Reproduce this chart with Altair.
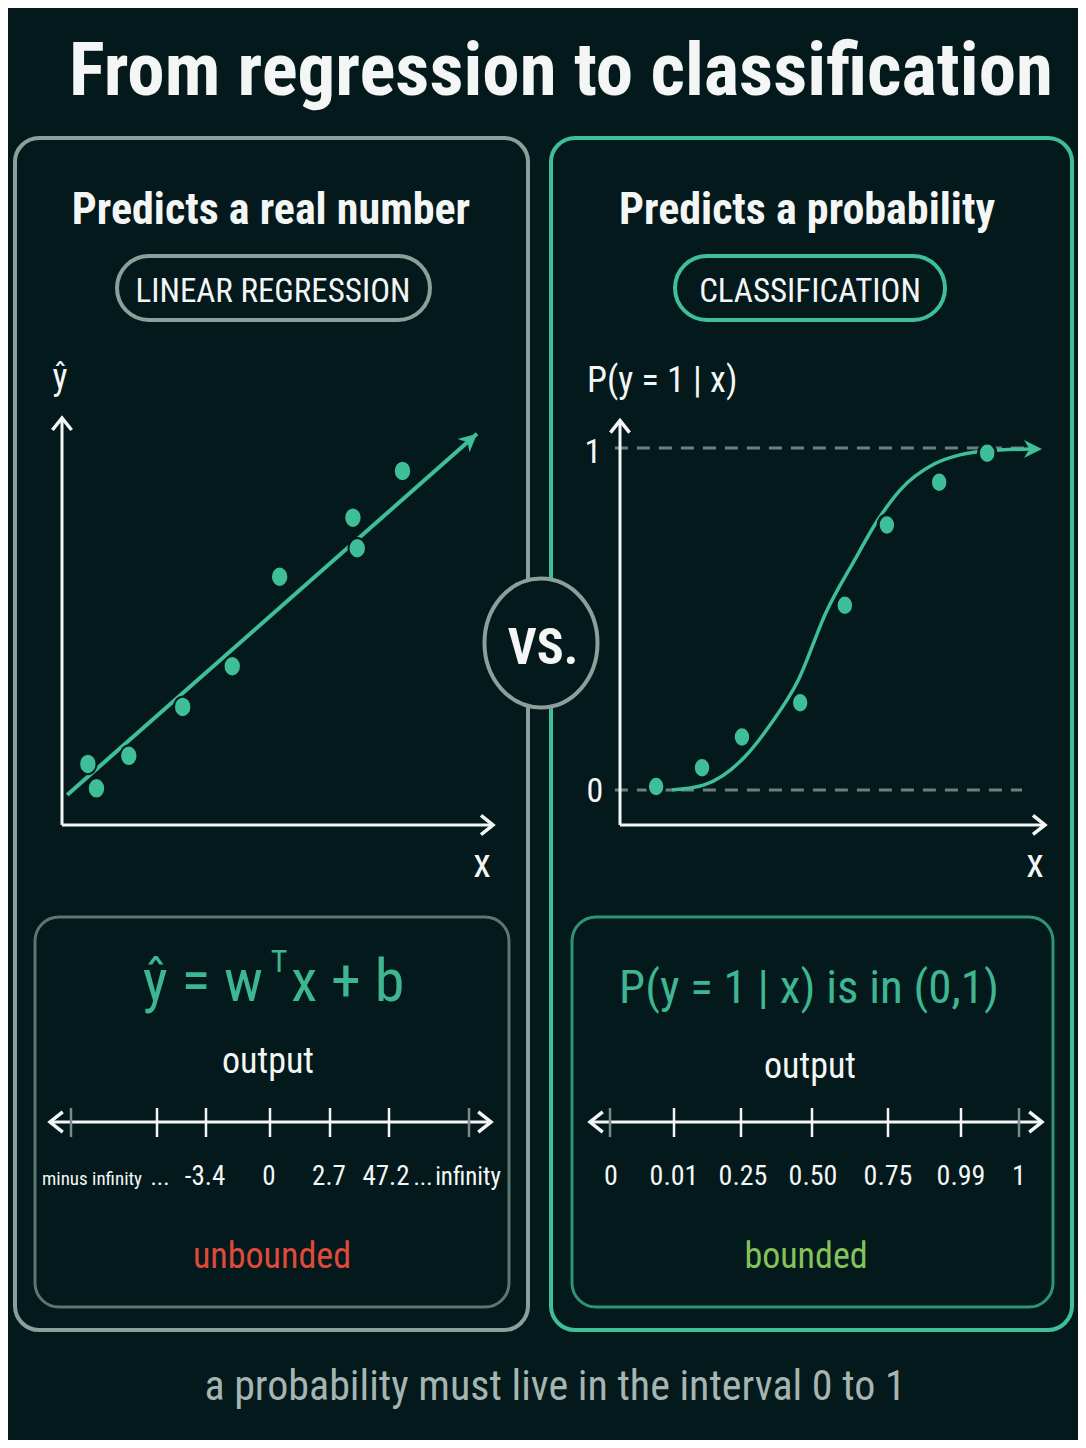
import math
import altair as alt
import pandas as pd

# ---------------- data ----------------
TITLE = "From regression to classification"
LEFT_HEAD = "Predicts a real number"
LEFT_TAG = "LINEAR REGRESSION"
RIGHT_HEAD = "Predicts a probability"
RIGHT_TAG = "CLASSIFICATION"
LEFT_FORMULA = ["ŷ = w", "T", "x + b"]
RIGHT_FORMULA = "P(y = 1 | x) is in (0,1)"
OUTPUT_LABEL = "output"
LEFT_VERDICT = "unbounded"
RIGHT_VERDICT = "bounded"
FOOTNOTE = "a probability must live in the interval 0 to 1"
VS_LABEL = "VS."
Y_HAT_LABEL = "ŷ"
P_LABEL = "P(y = 1 | x)"
X_LABEL = "x"

# regression panel (x, y-hat in arbitrary units 0..10)
reg_x = [0.6, 0.8, 1.55, 2.8, 3.95, 5.05, 6.85, 6.75, 7.9]
reg_y = [1.5, 0.9, 1.7, 2.9, 3.9, 6.1, 6.8, 7.55, 8.7]
reg_line_x = [0.12, 9.63]
reg_line_y = [0.74, 9.61]

# classification panel (x 0..10, probability 0..1)
cls_x = [0.85, 1.93, 2.87, 4.24, 5.29, 6.28, 7.51, 8.64]
cls_p = [0.01, 0.065, 0.155, 0.255, 0.54, 0.775, 0.90, 0.985]
curve_x = [1.22, 1.98, 2.96, 3.53, 4.19, 4.85, 5.51, 6.07, 6.59, 7.39, 8.0, 8.59, 9.65]
curve_p = [0.0, 0.015, 0.10, 0.19, 0.32, 0.52, 0.67, 0.79, 0.877, 0.953, 0.98, 0.991, 0.997]

reg_tick_labels = ["minus infinity", "...", "-3.4", "0", "2.7", "47.2", "...", "infinity"]
cls_tick_labels = ["0", "0.01", "0.25", "0.50", "0.75", "0.99", "1"]

# ---------------- style ----------------
BG = "#03191b"
WHITE = "#f4f6f5"
TEAL = "#3fbf98"
TEAL_TXT = "#3db691"
GRAY = "#8d9f9a"
GRAY_DIM = "#5d7670"
TEAL_DIM = "#2f9474"
DASH = "#6f807c"
RED = "#e04a3c"
GREEN = "#85c25c"
FOOT = "#a6b5b1"
NARROW = "'Liberation Sans Narrow', 'Roboto Condensed', 'DejaVu Sans Condensed', sans-serif"

OFF = 8  # page margin
W, H = 1086 - 2 * OFF, 1448 - 2 * OFF

ARROW_FILLED = "M0,0L-2,-1L-1.4,0L-2,1Z"
CHEVRON = "M-1.5,-1.2L0,0L-1.5,1.2"
DOT = "M-0.85,0A0.85,1 0 1,0 0.85,0A0.85,1 0 1,0 -0.85,0Z"
ELLIPSE = "M-0.876,0A0.876,1 0 1,0 0.876,0A0.876,1 0 1,0 -0.876,0Z"


def LX():
    return alt.Scale(domain=[0, 10], range=[62 - OFF, 493 - OFF], nice=False, zero=False)


def LY():
    return alt.Scale(domain=[0, 10], range=[825 - OFF, 418 - OFF], nice=False, zero=False)


def RX():
    return alt.Scale(domain=[0, 10], range=[620 - OFF, 1045 - OFF], nice=False, zero=False)


def RY():
    return alt.Scale(domain=[0, 1], range=[790 - OFF, 448 - OFF], nice=False, zero=False)


def px(v):
    return v - OFF


def enc_px(ch, field):
    return ch(field + ":Q", scale=None, axis=None)


layers = []

# ---------- boxes ----------
boxes = pd.DataFrame([
    (15, 528, 138, 1330, GRAY, 4, 24),
    (551, 1072, 138, 1330, TEAL, 4, 24),
    (35, 509, 917, 1307, GRAY_DIM, 3, 24),
    (572, 1053, 917, 1307, TEAL_DIM, 3, 24),
], columns=["x", "x2", "y", "y2", "c", "w", "r"])
for _, b in boxes.iterrows():
    d = pd.DataFrame({"x": [px(b.x)], "x2": [px(b.x2)], "y": [px(b.y)], "y2": [px(b.y2)]})
    layers.append(
        alt.Chart(d).mark_rect(fillOpacity=0, stroke=b.c, strokeWidth=float(b.w),
                               cornerRadius=float(b.r))
        .encode(x=enc_px(alt.X, "x"), x2="x2", y=enc_px(alt.Y, "y"), y2="y2")
    )

pills = [(117, 430, GRAY), (675, 945, TEAL)]
for x1, x2, c in pills:
    d = pd.DataFrame({"x": [px(x1)], "x2": [px(x2)], "y": [px(256)], "y2": [px(320)]})
    layers.append(
        alt.Chart(d).mark_rect(fillOpacity=0, stroke=c, strokeWidth=4, cornerRadius=32)
        .encode(x=enc_px(alt.X, "x"), x2="x2", y=enc_px(alt.Y, "y"), y2="y2")
    )

# VS ellipse
vs_df = pd.DataFrame({"x": [px(541)], "y": [px(643)]})
layers.append(
    alt.Chart(vs_df).mark_point(shape=ELLIPSE, filled=True, fill=BG, stroke=GRAY,
                                strokeWidth=4, size=129 * 129, opacity=1)
    .encode(x=enc_px(alt.X, "x"), y=enc_px(alt.Y, "y"))
)

# ---------- left chart ----------
left_axes = pd.DataFrame({"x": [0, 0], "x2": [10, 0], "y": [0, 0], "y2": [0, 10]})
layers.append(
    alt.Chart(left_axes).mark_rule(color=WHITE, strokeWidth=3)
    .encode(x=alt.X("x:Q", scale=LX(), axis=None), x2="x2",
            y=alt.Y("y:Q", scale=LY(), axis=None), y2="y2")
)
left_arrows = pd.DataFrame({"x": [10, 0], "y": [0, 10], "a": [0, 270]})
layers.append(
    alt.Chart(left_arrows).mark_point(shape=CHEVRON, filled=False, color=WHITE,
                                      strokeWidth=3.5, size=256, opacity=1)
    .encode(x=alt.X("x:Q", scale=LX(), axis=None), y=alt.Y("y:Q", scale=LY(), axis=None),
            angle=alt.Angle("a:Q", scale=None))
)
reg_line = pd.DataFrame({"x": reg_line_x, "y": reg_line_y})
layers.append(
    alt.Chart(reg_line).mark_line(color=TEAL, strokeWidth=4)
    .encode(x=alt.X("x:Q", scale=LX(), axis=None), y=alt.Y("y:Q", scale=LY(), axis=None))
)
dxp = (reg_line_x[1] - reg_line_x[0]) * 43.1
dyp = -(reg_line_y[1] - reg_line_y[0]) * 40.7
ang = (math.degrees(math.atan2(dyp, dxp)) + 360) % 360
reg_head = pd.DataFrame({"x": [reg_line_x[1]], "y": [reg_line_y[1]], "a": [ang]})
layers.append(
    alt.Chart(reg_head).mark_point(shape=ARROW_FILLED, filled=True, color=TEAL,
                                   size=324, opacity=1)
    .encode(x=alt.X("x:Q", scale=LX(), axis=None), y=alt.Y("y:Q", scale=LY(), axis=None),
            angle=alt.Angle("a:Q", scale=None))
)
reg_pts = pd.DataFrame({"x": reg_x, "y": reg_y})
layers.append(
    alt.Chart(reg_pts).mark_point(shape=DOT, filled=True, fill=TEAL, stroke=BG,
                                  strokeWidth=2, size=420, opacity=1)
    .encode(x=alt.X("x:Q", scale=LX(), axis=None), y=alt.Y("y:Q", scale=LY(), axis=None))
)

# ---------- right chart ----------
dashes = pd.DataFrame({"x": [-0.12, -0.12], "x2": [9.53, 9.46], "y": [1, 0], "y2": [1, 0]})
layers.append(
    alt.Chart(dashes).mark_rule(color=DASH, strokeWidth=3, strokeDash=[13, 9])
    .encode(x=alt.X("x:Q", scale=RX(), axis=None), x2="x2",
            y=alt.Y("y:Q", scale=RY(), axis=None), y2="y2")
)
right_axes = pd.DataFrame({"x": [0, 0], "x2": [10, 0], "y": [-0.102, -0.102], "y2": [-0.102, 1.08]})
layers.append(
    alt.Chart(right_axes).mark_rule(color=WHITE, strokeWidth=3)
    .encode(x=alt.X("x:Q", scale=RX(), axis=None), x2="x2",
            y=alt.Y("y:Q", scale=RY(), axis=None), y2="y2")
)
right_arrows = pd.DataFrame({"x": [10, 0], "y": [-0.102, 1.08], "a": [0, 270]})
layers.append(
    alt.Chart(right_arrows).mark_point(shape=CHEVRON, filled=False, color=WHITE,
                                       strokeWidth=3.5, size=256, opacity=1)
    .encode(x=alt.X("x:Q", scale=RX(), axis=None), y=alt.Y("y:Q", scale=RY(), axis=None),
            angle=alt.Angle("a:Q", scale=None))
)
curve = pd.DataFrame({"x": curve_x, "y": curve_p})
layers.append(
    alt.Chart(curve).mark_line(color=TEAL, strokeWidth=3.5, interpolate="monotone")
    .encode(x=alt.X("x:Q", scale=RX(), axis=None), y=alt.Y("y:Q", scale=RY(), axis=None))
)
curve_head = pd.DataFrame({"x": [9.93], "y": [0.997], "a": [0]})
layers.append(
    alt.Chart(curve_head).mark_point(shape=ARROW_FILLED, filled=True, color=TEAL,
                                     size=324, opacity=1)
    .encode(x=alt.X("x:Q", scale=RX(), axis=None), y=alt.Y("y:Q", scale=RY(), axis=None),
            angle=alt.Angle("a:Q", scale=None))
)
cls_pts = pd.DataFrame({"x": cls_x, "y": cls_p})
layers.append(
    alt.Chart(cls_pts).mark_point(shape=DOT, filled=True, fill=TEAL, stroke=BG,
                                  strokeWidth=3, size=420, opacity=1)
    .encode(x=alt.X("x:Q", scale=RX(), axis=None), y=alt.Y("y:Q", scale=RY(), axis=None))
)

# ---------- number lines ----------
reg_tick_x = [71, 157, 206, 270, 330, 389, 469]
reg_tick_faint = [True, False, False, False, False, False, True]
cls_tick_x = [610, 674, 741, 812, 888, 961, 1019]
cls_tick_faint = [True, False, False, False, False, False, True]

nl = pd.DataFrame({"x": [px(52), px(592)], "x2": [px(488), px(1040)],
                   "y": [px(1122), px(1122)]})
layers.append(
    alt.Chart(nl).mark_rule(color=WHITE, strokeWidth=3)
    .encode(x=enc_px(alt.X, "x"), x2="x2", y=enc_px(alt.Y, "y"))
)
nl_heads = pd.DataFrame({"x": [px(50), px(491), px(590), px(1042)],
                         "y": [px(1122)] * 4, "a": [180, 0, 180, 0]})
layers.append(
    alt.Chart(nl_heads).mark_point(shape=CHEVRON, filled=False, color=WHITE,
                                   strokeWidth=3.5, size=289, opacity=1)
    .encode(x=enc_px(alt.X, "x"), y=enc_px(alt.Y, "y"), angle=alt.Angle("a:Q", scale=None))
)
ticks = pd.DataFrame({
    "x": [px(v) for v in reg_tick_x + cls_tick_x],
    "y": [px(1108)] * 14, "y2": [px(1137)] * 14,
    "c": [("#7d8b88" if f else WHITE) for f in reg_tick_faint + cls_tick_faint],
})
layers.append(
    alt.Chart(ticks).mark_rule(strokeWidth=2.5)
    .encode(x=enc_px(alt.X, "x"), y=enc_px(alt.Y, "y"), y2="y2",
            color=alt.Color("c:N", scale=None))
)


# ---------- texts ----------
def texts(rows, weight="normal", align="center", font=NARROW):
    d = pd.DataFrame(rows, columns=["t", "x", "y", "s", "c"])
    d["x"] = d["x"] - OFF
    d["y"] = d["y"] - OFF
    return (
        alt.Chart(d).mark_text(font=font, fontWeight=weight, align=align, baseline="alphabetic")
        .encode(x=enc_px(alt.X, "x"), y=enc_px(alt.Y, "y"), text="t:N",
                size=alt.Size("s:Q", scale=None), color=alt.Color("c:N", scale=None))
    )


layers.append(texts([
    (TITLE, 561, 95, 75, WHITE),
    (LEFT_HEAD, 271, 224, 44, WHITE),
    (RIGHT_HEAD, 807, 224, 44, WHITE),
    (VS_LABEL, 543, 664, 50, WHITE),
], weight="bold"))

reg_label_x = [92, 160, 205, 269, 329, 386, 423, 468]
reg_label_s = [19, 24, 27, 27, 27, 27, 24, 25]
cls_label_x = [611, 674, 743, 813, 888, 961, 1019]

rows = [
    (LEFT_TAG, 273, 302, 33, WHITE),
    (RIGHT_TAG, 810, 302, 33, WHITE),
    (Y_HAT_LABEL, 60, 389, 36, WHITE),
    ("1", 593, 463, 34, WHITE),
    ("0", 595, 802, 34, WHITE),
    (X_LABEL, 482, 877, 40, WHITE),
    (X_LABEL, 1035, 877, 40, WHITE),
    (OUTPUT_LABEL, 268, 1073, 36, WHITE),
    (OUTPUT_LABEL, 810, 1078, 36, WHITE),
    (LEFT_VERDICT, 272, 1268, 36, RED),
    (RIGHT_VERDICT, 806, 1268, 36, GREEN),
    (FOOTNOTE, 555, 1400, 42, FOOT),
    (RIGHT_FORMULA, 809, 1003, 47, TEAL_TXT),
    (LEFT_FORMULA[1], 279, 972, 32, TEAL_TXT),
]
rows += [(t, x, 1185, s, WHITE) for t, x, s in zip(reg_tick_labels, reg_label_x, reg_label_s)]
rows += [(t, x, 1185, 28, WHITE) for t, x in zip(cls_tick_labels, cls_label_x)]
layers.append(texts(rows))
layers.append(texts([(P_LABEL, 587, 392, 36, WHITE)], align="left"))
layers.append(texts([(LEFT_FORMULA[0], 263, 1001, 60, TEAL_TXT)], align="right"))
layers.append(texts([(LEFT_FORMULA[2], 291, 1001, 60, TEAL_TXT)], align="left"))

chart = (
    alt.layer(*layers)
    .resolve_scale(x="independent", y="independent")
    .properties(width=W, height=H, autosize=alt.AutoSizeParams(type="none"),
                padding=0, background=BG)
    .configure_view(strokeWidth=0)
)

chart.save("out.html", embed_options={"renderer": "svg", "actions": False})
